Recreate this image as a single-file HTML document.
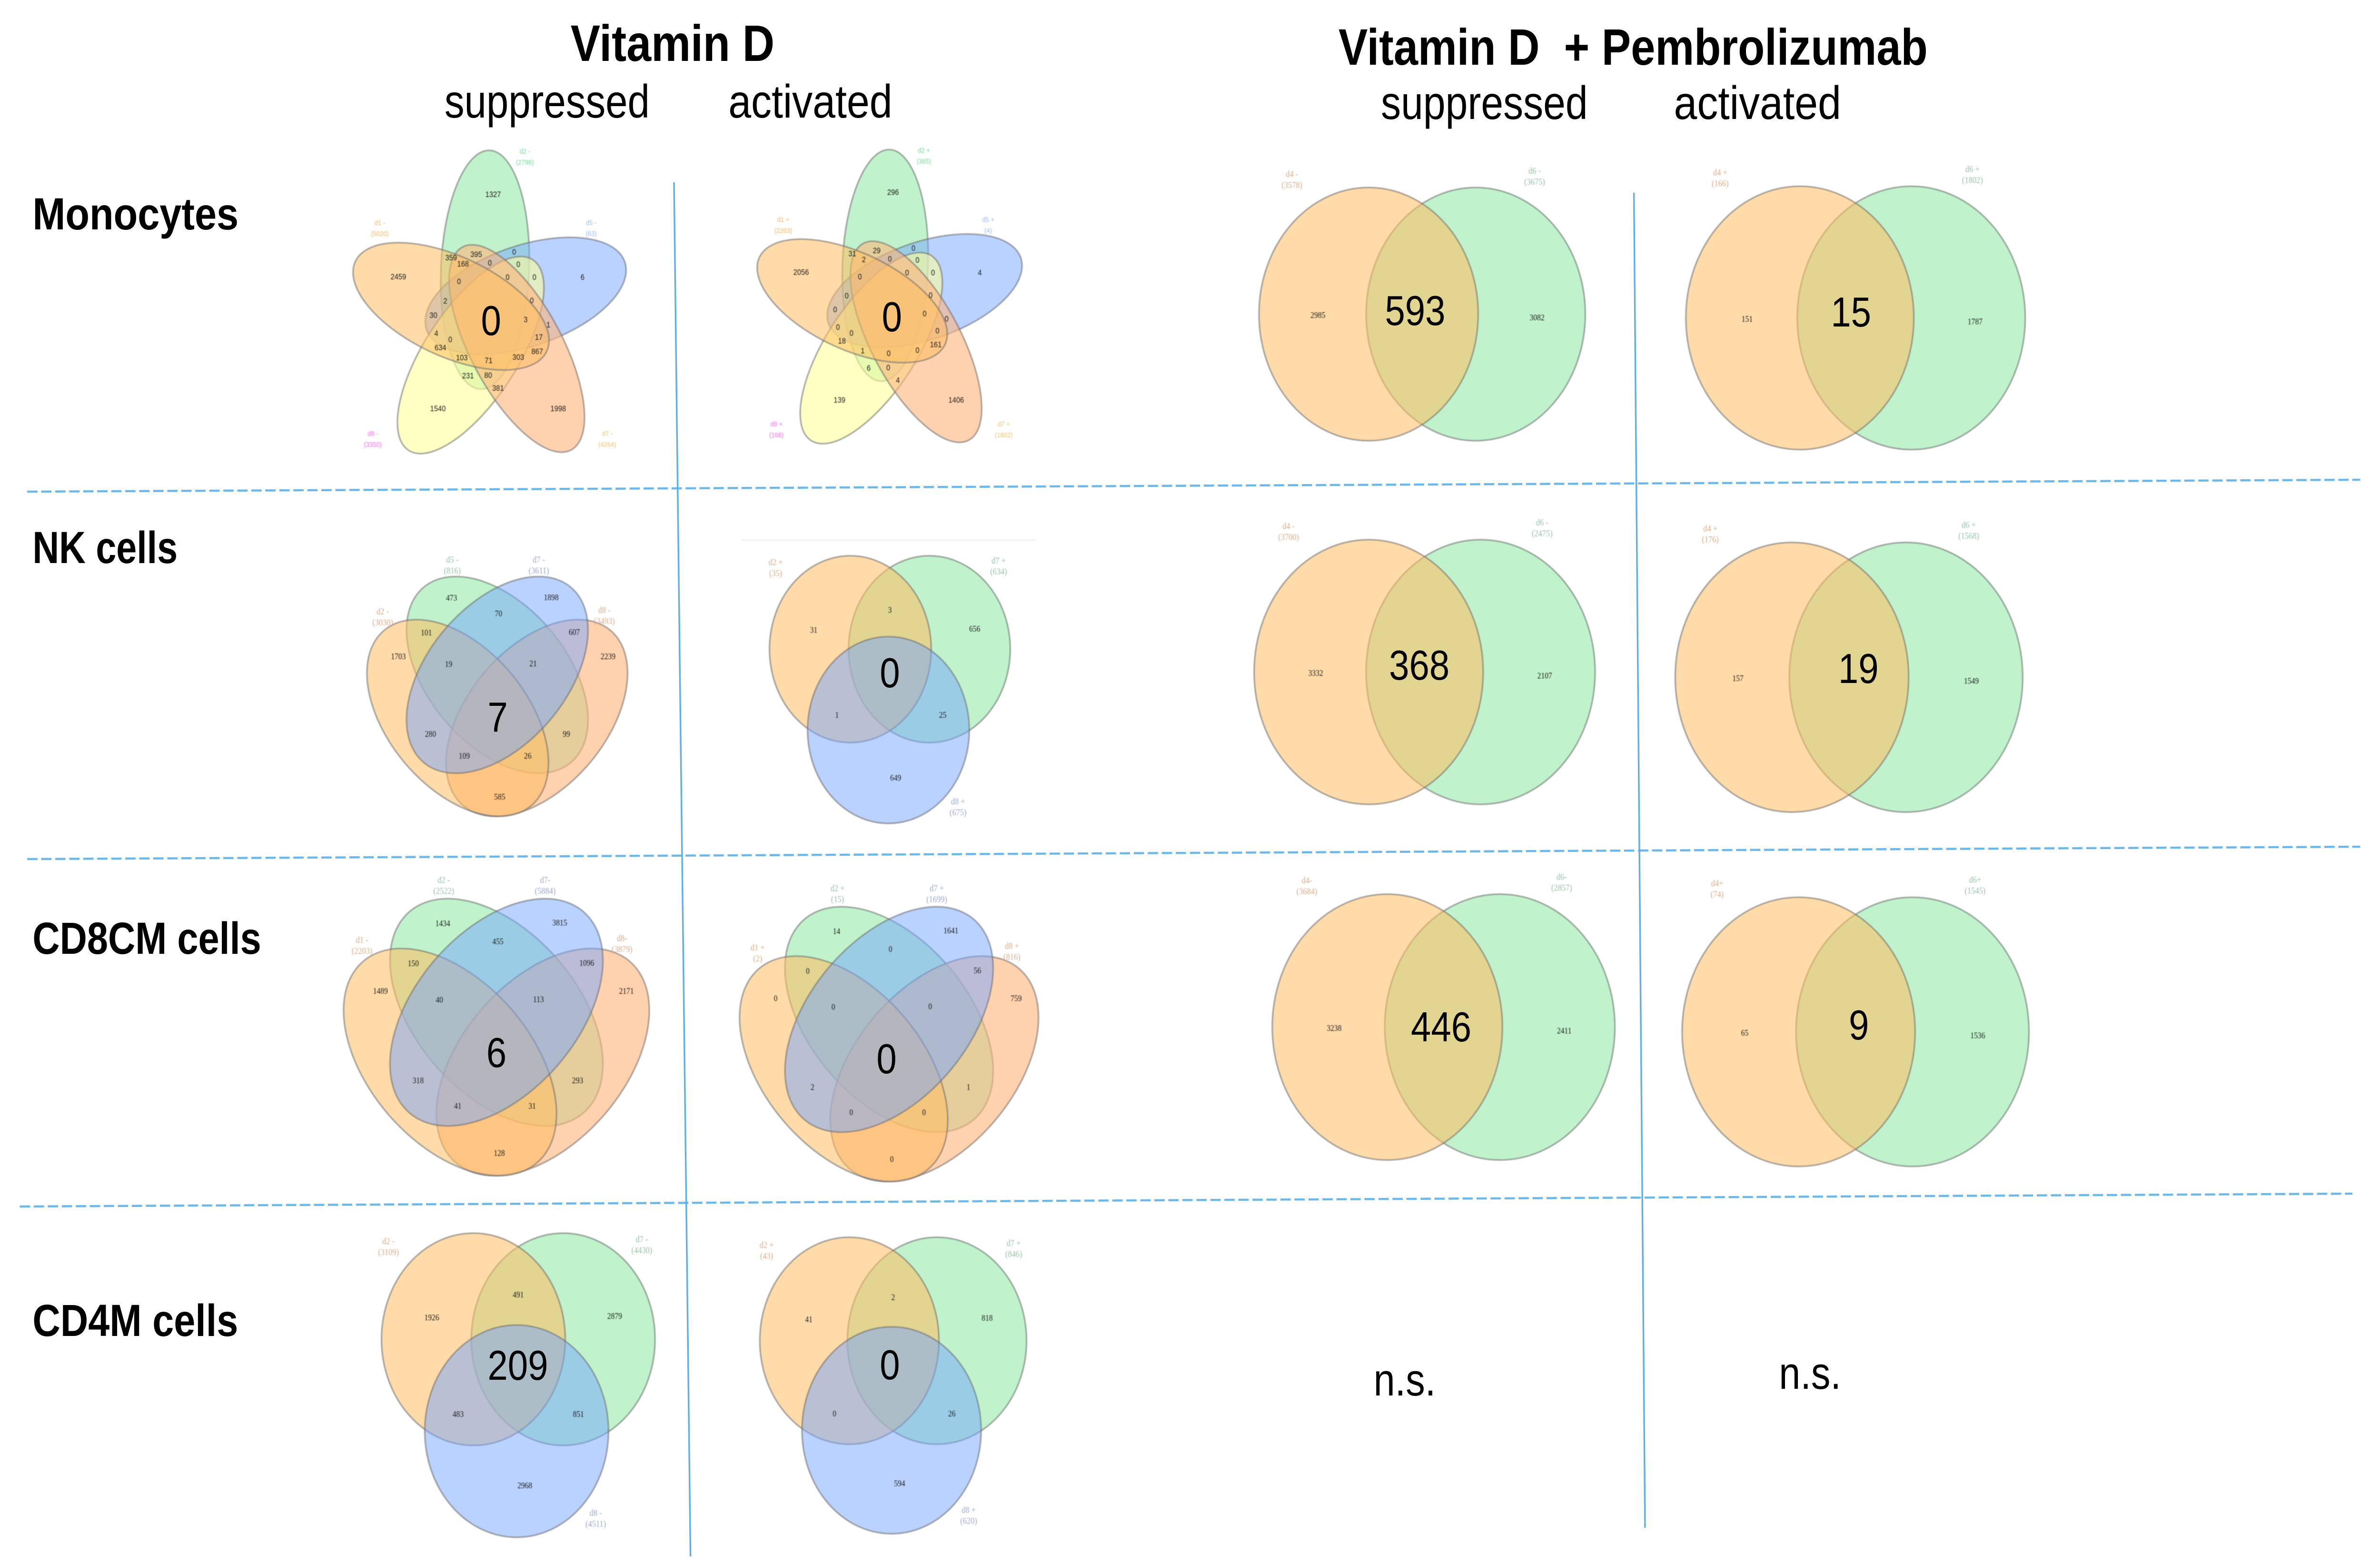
<!DOCTYPE html>
<html lang="en">
<head>
<meta charset="utf-8">
<title>Venn diagrams of suppressed and activated genes</title>
<style>
html,body{margin:0;padding:0;background:#fff;width:100%;height:100%;overflow:hidden}
svg{display:block;position:absolute;left:0;top:0;width:100vw;height:100vh}
.head{font-family:"Liberation Sans",sans-serif;fill:#000}
.b{font-weight:bold}
</style>
</head>
<body>
<svg id="figure" xmlns="http://www.w3.org/2000/svg" viewBox="0 0 5777 3284" preserveAspectRatio="none">
<defs>
<filter id="softer" x="-5%" y="-5%" width="110%" height="110%"><feGaussianBlur stdDeviation="0.9"/></filter>
</defs>
<rect width="5777" height="3284" fill="#fff"/>

<g fill="none">
<line x1="66" y1="1033" x2="5729" y2="1008" stroke="#6cb8ea" stroke-width="4.5" stroke-dasharray="25 9"/>
<line x1="66" y1="1805" x2="5729" y2="1779" stroke="#6cb8ea" stroke-width="4.5" stroke-dasharray="25 9"/>
<line x1="48" y1="2535" x2="5710" y2="2508" stroke="#6cb8ea" stroke-width="4.5" stroke-dasharray="25 9"/>
<line x1="1636" y1="383" x2="1676" y2="3270" stroke="#5fb0e4" stroke-width="4"/>
<line x1="3966" y1="405" x2="3993" y2="3210" stroke="#5fb0e4" stroke-width="4"/>
<line x1="1800" y1="1135" x2="2515" y2="1135" stroke="#f0f0f0" stroke-width="3"/>
</g>

<g id="panels"></g>

<g>
<text class="head b" x="1385" y="128" font-size="108" textLength="495" lengthAdjust="spacingAndGlyphs">Vitamin D</text>
<text class="head" x="1079" y="247" font-size="98" textLength="498" lengthAdjust="spacingAndGlyphs">suppressed</text>
<text class="head" x="1768" y="247" font-size="98" textLength="398" lengthAdjust="spacingAndGlyphs">activated</text>
<text class="head b" x="3249" y="136" font-size="108" textLength="1430" lengthAdjust="spacingAndGlyphs" xml:space="preserve">Vitamin D  + Pembrolizumab</text>
<text class="head" x="3352" y="250" font-size="98" textLength="502" lengthAdjust="spacingAndGlyphs">suppressed</text>
<text class="head" x="4063" y="250" font-size="98" textLength="406" lengthAdjust="spacingAndGlyphs">activated</text>
<text class="head b" x="79" y="482" font-size="95" textLength="500" lengthAdjust="spacingAndGlyphs">Monocytes</text>
<text class="head b" x="79" y="1183" font-size="95" textLength="352" lengthAdjust="spacingAndGlyphs">NK cells</text>
<text class="head b" x="79" y="2004" font-size="95" textLength="555" lengthAdjust="spacingAndGlyphs">CD8CM cells</text>
<text class="head b" x="79" y="2807" font-size="95" textLength="499" lengthAdjust="spacingAndGlyphs">CD4M cells</text>
<text class="head" x="3334" y="2932" font-size="96" textLength="151" lengthAdjust="spacingAndGlyphs">n.s.</text>
<text class="head" x="4318" y="2918" font-size="96" textLength="151" lengthAdjust="spacingAndGlyphs">n.s.</text>
</g>
</svg>

<script>
/* ---------- values printed in each diagram ---------- */
const monoSuppressedCounts = ["1327","0","395","359","168","0","0","2459","0","0","0","6","2","0","30","3","1","4","17","0","634","867","103","303","71","231","80","381","1540","1998"];
const monoSuppressedShared = "0";
const monoSuppressedSets = [["d2 -","(2796)"],["d1 -","(5020)"],["d5 -","(63)"],["d8 -","(3350)"],["d7 -","(4264)"]];

const monoActivatedCounts = ["296","0","29","31","2","0","0","2056","0","0","0","4","0","0","0","0","0","0","0","0","18","161","1","0","0","6","0","4","139","1406"];
const monoActivatedShared = "0";
const monoActivatedSets = [["d2 +","(365)"],["d1 +","(2263)"],["d5 +","(4)"],["d8 +","(168)"],["d7 +","(1602)"]];

const nkSuppressedCounts = ["473","1898","70","2239","1703","101","607","19","21","280","99","109","26","585"];
const nkSuppressedShared = "7";
const nkSuppressedSets = [["d2 -","(3030)"],["d5 -","(816)"],["d7 -","(3611)"],["d8 -","(3493)"]];

const cd8SuppressedCounts = ["1434","3815","455","2171","1489","150","1096","40","113","318","293","41","31","128"];
const cd8SuppressedShared = "6";
const cd8SuppressedSets = [["d1 -","(2203)"],["d2 -","(2522)"],["d7-","(5884)"],["d8-","(3879)"]];

const cd8ActivatedCounts = ["14","1641","0","759","0","0","56","0","0","2","1","0","0","0"];
const cd8ActivatedShared = "0";
const cd8ActivatedSets = [["d1 +","(2)"],["d2 +","(15)"],["d7 +","(1699)"],["d8 +","(816)"]];

const nkActivatedCounts = ["3","31","656","1","25","649"];
const nkActivatedShared = "0";
const nkActivatedSets = [["d2 +","(35)"],["d7 +","(634)"],["d8 +","(675)"]];

const cd4SuppressedCounts = ["491","1926","2879","483","851","2968"];
const cd4SuppressedShared = "209";
const cd4SuppressedSets = [["d2 -","(3109)"],["d7 -","(4430)"],["d8 -","(4511)"]];

const cd4ActivatedCounts = ["2","41","818","0","26","594"];
const cd4ActivatedShared = "0";
const cd4ActivatedSets = [["d2 +","(43)"],["d7 +","(846)"],["d8 +","(620)"]];

const monoComboSuppressedCounts = ["2985","3082"];
const monoComboSuppressedShared = "593";
const monoComboSuppressedSets = [["d4 -","(3578)"],["d6 -","(3675)"]];

const monoComboActivatedCounts = ["151","1787"];
const monoComboActivatedShared = "15";
const monoComboActivatedSets = [["d4 +","(166)"],["d6 +","(1802)"]];

const nkComboSuppressedCounts = ["3332","2107"];
const nkComboSuppressedShared = "368";
const nkComboSuppressedSets = [["d4 -","(3700)"],["d6 -","(2475)"]];

const nkComboActivatedCounts = ["157","1549"];
const nkComboActivatedShared = "19";
const nkComboActivatedSets = [["d4 +","(176)"],["d6 +","(1568)"]];

const cd8ComboSuppressedCounts = ["3238","2411"];
const cd8ComboSuppressedShared = "446";
const cd8ComboSuppressedSets = [["d4-","(3684)"],["d6-","(2857)"]];

const cd8ComboActivatedCounts = ["65","1536"];
const cd8ComboActivatedShared = "9";
const cd8ComboActivatedSets = [["d4+","(74)"],["d6+","(1545)"]];

/* ---------- diagram geometry (templates, not data) ---------- */
const GREEN={fill:"rgb(150,235,170)",alpha:.6};
const ORANGE={fill:"rgb(255,190,97)",alpha:.55};
const BLUE={fill:"rgb(117,165,255)",alpha:.5};
const SALMON={fill:"rgb(255,180,123)",alpha:.6};
const YELLOW={fill:"rgb(255,255,157)",alpha:.6};

function starShape(k, paint){
  const a=(-7+72*k)*Math.PI/180;
  return {ox:96*Math.sin(a), oy:-96*Math.cos(a), rx:107, ry:251, rot:2.7+72*k, paint:paint};
}
const layouts = {
  five:{
    serif:false,
    shapes:[starShape(0,GREEN),starShape(1,BLUE),starShape(3,YELLOW),starShape(2,SALMON),starShape(4,ORANGE)],
    anchors:[[8,-254],[59,-133],[-33,-128],[-94,-121],[-65,-108],[0,-110],[69,-107],[-222,-81],[-75,-71],[43,-80],[108,-80],[225,-80],[-108,-30],[102,-31],[-137,0],[87,9],[142,20],[-130,38],[119,46],[-96,51],[-120,68],[115,76],[-68,89],[69,88],[-3,95],[-53,127],[-4,126],[20,153],[-126,196],[166,196]],
    setAnchors:[[85,-334],[-267,-184],[246,-184],[-284,259],[285,259]],
    setColors:["#6fdc96","#ffb469","#9db8ff","#ff6cf0","#efc468"]
  },
  four:{
    serif:true,
    shapes:[
      {ox:0,oy:0,rx:258,ry:157,rot:41,paint:GREEN},
      {ox:96,oy:90.5,rx:258,ry:157,rot:-41,paint:SALMON},
      {ox:-96,oy:90.5,rx:258,ry:157,rot:41,paint:ORANGE},
      {ox:0,oy:0,rx:258,ry:157,rot:-41,paint:BLUE}
    ],
    anchors:[[-111,-162],[131,-163],[3,-129],[269,-39],[-240,-39],[-172,-89],[187,-90],[-118,-23],[87,-24],[-162,124],[168,124],[-80,170],[74,170],[6,256]],
    setAnchors:[[-278,-122],[-109,-231],[101,-231],[260,-125]],
    setColors:["#d9a983","#93bfa5","#98a6cf","#d9a98c"]
  },
  three:{
    serif:true,
    shapes:[
      {ox:109,oy:0,rx:223,ry:223,rot:0,paint:GREEN},
      {ox:-109,oy:0,rx:223,ry:223,rot:0,paint:ORANGE},
      {ox:-4,oy:193,rx:223,ry:223,rot:0,paint:BLUE}
    ],
    anchors:[[0,-94],[-210,-46],[234,-49],[-146,157],[146,157],[16,307]],
    setAnchors:[[-315,-195],[300,-199],[188,376]],
    setColors:["#d9a983","#93bfa5","#98a6cf"]
  },
  two:{
    serif:true,
    shapes:[
      {ox:130,oy:0,rx:266,ry:266,rot:0,paint:GREEN},
      {ox:-130,oy:0,rx:266,ry:266,rot:0,paint:ORANGE}
    ],
    anchors:[[-253,2],[279,7]],
    setAnchors:[[-316,-283],[273,-290]],
    setColors:["#d9a983","#93bfa5"]
  }
};

/* cx,cy = diagram centre; sx,sy = scale; bx,by = centre of the big shared number */
const panels = [
  {id:"monocytes-suppressed",type:"five",cx:1189,cy:662,sx:1,sy:1,bx:1192,by:673,counts:monoSuppressedCounts,shared:monoSuppressedShared,sets:monoSuppressedSets},
  {id:"monocytes-activated",type:"five",cx:2160,cy:650,sx:.97,sy:.97,bx:2165,by:665,counts:monoActivatedCounts,shared:monoActivatedShared,sets:monoActivatedSets},
  {id:"nk-suppressed",type:"four",cx:1207,cy:1418,sx:1,sy:1,bx:1208,by:1506,counts:nkSuppressedCounts,shared:nkSuppressedShared,sets:nkSuppressedSets},
  {id:"nk-activated",type:"three",cx:2160,cy:1364,sx:.88,sy:.88,bx:2160,by:1413,counts:nkActivatedCounts,shared:nkActivatedShared,sets:nkActivatedSets},
  {id:"cd8cm-suppressed",type:"four",cx:1205,cy:2127,sx:1.173,sy:1.155,bx:1205,by:2211,counts:cd8SuppressedCounts,shared:cd8SuppressedShared,sets:cd8SuppressedSets},
  {id:"cd8cm-activated",type:"four",cx:2158,cy:2142,sx:1.147,sy:1.146,bx:2152,by:2224,counts:cd8ActivatedCounts,shared:cd8ActivatedShared,sets:cd8ActivatedSets},
  {id:"cd4m-suppressed",type:"three",cx:1258,cy:2814,sx:1,sy:1,bx:1257,by:2868,counts:cd4SuppressedCounts,shared:cd4SuppressedShared,sets:cd4SuppressedSets},
  {id:"cd4m-activated",type:"three",cx:2168,cy:2817,sx:.975,sy:.975,bx:2160,by:2867,counts:cd4ActivatedCounts,shared:cd4ActivatedShared,sets:cd4ActivatedSets},
  {id:"monocytes-combo-suppressed",type:"two",cx:3452,cy:660,sx:1,sy:1,bx:3435,by:652,counts:monoComboSuppressedCounts,shared:monoComboSuppressedShared,sets:monoComboSuppressedSets},
  {id:"monocytes-combo-activated",type:"two",cx:4504,cy:668,sx:1.04,sy:1.04,bx:4493,by:655,counts:monoComboActivatedCounts,shared:monoComboActivatedShared,sets:monoComboActivatedSets},
  {id:"nk-combo-suppressed",type:"two",cx:3458,cy:1412,sx:1.045,sy:1.045,bx:3445,by:1397,counts:nkComboSuppressedCounts,shared:nkComboSuppressedShared,sets:nkComboSuppressedSets},
  {id:"nk-combo-activated",type:"two",cx:4488,cy:1423,sx:1.065,sy:1.065,bx:4511,by:1404,counts:nkComboActivatedCounts,shared:nkComboActivatedShared,sets:nkComboActivatedSets},
  {id:"cd8cm-combo-suppressed",type:"two",cx:3504,cy:2158,sx:1.05,sy:1.05,bx:3498,by:2157,counts:cd8ComboSuppressedCounts,shared:cd8ComboSuppressedShared,sets:cd8ComboSuppressedSets},
  {id:"cd8cm-combo-activated",type:"two",cx:4504,cy:2168,sx:1.063,sy:1.063,bx:4512,by:2153,counts:cd8ComboActivatedCounts,shared:cd8ComboActivatedShared,sets:cd8ComboActivatedSets}
];

/* ---------- drawing ---------- */
const NS="http://www.w3.org/2000/svg";
const SERIF='"Liberation Serif",serif', SANS='"Liberation Sans",sans-serif';
const root=document.getElementById("panels");

function make(tag, parent, attrs){
  const node=document.createElementNS(NS,tag);
  for(const k in attrs){ node.setAttribute(k,attrs[k]); }
  parent.appendChild(node);
  return node;
}

function drawEllipse(parent,p,s){
  const el=make("ellipse",parent,{
    cx:0,cy:0,rx:s.rx,ry:s.ry,
    transform:"translate("+p.cx+" "+p.cy+") scale("+p.sx+" "+p.sy+") translate("+s.ox+" "+s.oy+") rotate("+s.rot+")",
    fill:s.paint.fill,"fill-opacity":s.paint.alpha,
    stroke:"#6e6e6e","stroke-opacity":.55,"stroke-width":3.5,"vector-effect":"non-scaling-stroke"
  });
  
  
}

function drawCount(parent,p,layout,value,anchor){
  const el=make("text",parent,{
    x:p.cx+anchor[0]*p.sx,y:p.cy+anchor[1]*p.sy+6,
    "text-anchor":"middle","font-size":layout.serif?18:17,
    "font-family":layout.serif?SERIF:SANS,fill:"#1c1c1c"
  });
  
  
  el.textContent=value;
}

function drawSetLabel(parent,p,layout,lines,anchor,color){
  [0,1].forEach(function(i){
    const el=make("text",parent,{
      x:p.cx+anchor[0]*p.sx,y:p.cy+anchor[1]*p.sy+(i===0?-5:18),
      "text-anchor":"middle","font-size":layout.serif?19:15,
      "font-family":layout.serif?SERIF:SANS,fill:color
    });
    
    
    el.textContent=lines[i];
  });
}

function drawShared(parent,p){
  const el=make("text",parent,{
    x:p.bx,y:p.by+31,"text-anchor":"middle","font-size":88,
    "font-family":SANS,fill:"#000"
  });
  
  
  el.textContent=p.shared;
}

panels.forEach(function(p){
  const layout=layouts[p.type];
  const g=make("g",root,{});
  
  
  const shapes=make("g",g,{filter:"url(#softer)"});
  const small=make("g",g,{filter:"url(#softer)"});
  layout.shapes.forEach(function(s){ drawEllipse(shapes,p,s); });
  p.counts.forEach(function(v,i){ drawCount(small,p,layout,v,layout.anchors[i]); });
  p.sets.forEach(function(lines,i){ drawSetLabel(small,p,layout,lines,layout.setAnchors[i],layout.setColors[i]); });
  drawShared(g,p);
});
</script>
</body>
</html>
